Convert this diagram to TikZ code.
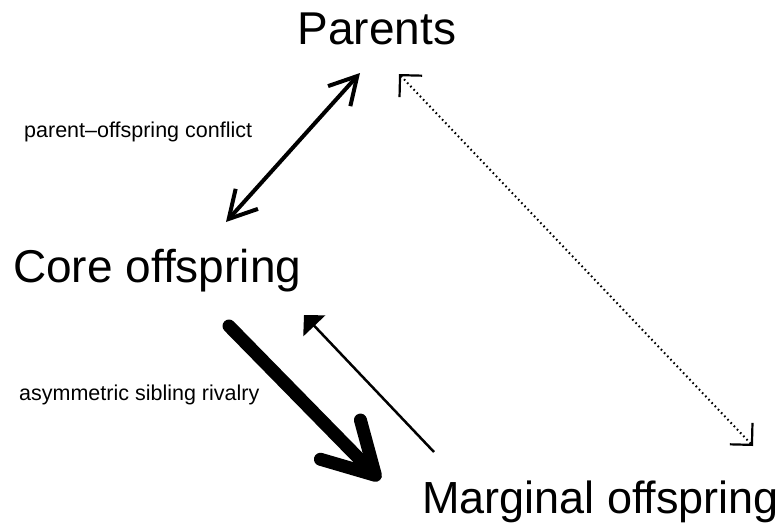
\documentclass[tikz,border=0pt]{standalone}
\usepackage{fontspec}
\setmainfont{Liberation Sans}
\usetikzlibrary{arrows.meta}
\begin{document}
\begin{tikzpicture}[x=1pt,y=-1pt,
  big/.style={inner sep=0pt,font=\fontsize{46}{54}\selectfont},
  small/.style={inner sep=0pt,anchor=base west,font=\fontsize{21.5}{25}\selectfont},
  conflict/.style={line width=4pt,{Straight Barb[length=27pt,width=30pt,line width=4pt]}-{Straight Barb[length=27pt,width=30pt,line width=4pt]}},
  weak/.style={line width=2pt,dash pattern=on 1.6pt off 3pt,{Straight Barb[angle=90:22pt,line width=2.2pt]}-{Straight Barb[angle=90:22pt,line width=2.2pt]}},
  strong/.style={line width=13pt,line cap=round,-{Straight Barb[round,length=50pt,width=56pt,line width=13pt]}},
  thin/.style={line width=2.5pt,-{Triangle[length=15pt,width=30pt]}}]
\useasboundingbox (0,0) rectangle (784,525);
\node[big,anchor=base] (P) at (377,44) {Parents};
\node[big,anchor=base west] (C) at (13,282) {Core offspring};
\node[big,anchor=base west,font=\fontsize{45}{54}\selectfont] (M) at (422,513) {Marginal offspring};
\node[small] (l1) at (24,137) {parent–offspring conflict};
\node[small] (l2) at (19,400) {asymmetric sibling rivalry};
\coordinate (pc1) at (360,73);
\coordinate (pc2) at (226,222);
\coordinate (pm1) at (399,74);
\coordinate (pm2) at (753,446);
\coordinate (cm1) at (229,326);
\coordinate (cm2) at (380,480);
\coordinate (mc1) at (434,452);
\coordinate (mc2) at (304,315);
\draw[conflict] (pc2) -- (pc1);
\draw[weak] (pm1) -- (pm2);
\draw[strong] (cm1) -- (cm2);
\draw[thin] (mc1) -- (mc2);
\end{tikzpicture}
\end{document}
